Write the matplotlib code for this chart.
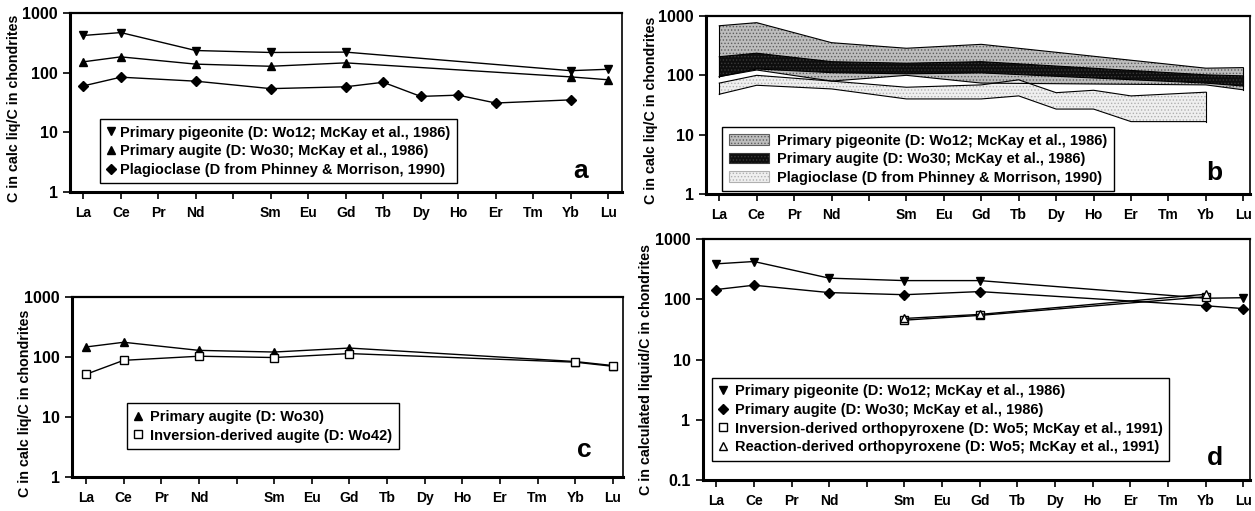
import numpy as np
import matplotlib
matplotlib.use("Agg")
import matplotlib.pyplot as plt
from matplotlib.lines import Line2D
from matplotlib.patches import Patch

plt.rcParams['font.family'] = ['Liberation Sans', 'DejaVu Sans']
plt.rcParams['font.weight'] = 'bold'
plt.rcParams['hatch.linewidth'] = 0.6

# -----------------------------
# REE axis
# -----------------------------
ree = ['La', 'Ce', 'Pr', 'Nd', '', 'Sm', 'Eu', 'Gd', 'Tb', 'Dy', 'Ho', 'Er', 'Tm', 'Yb', 'Lu']
px_elems = ['La', 'Ce', 'Nd', 'Sm', 'Gd', 'Yb', 'Lu']
plag_elems = ['La', 'Ce', 'Nd', 'Sm', 'Gd', 'Tb', 'Dy', 'Ho', 'Er', 'Yb']
opx_elems = ['Sm', 'Gd', 'Yb']

# -----------------------------
# (a) calculated liquids
# -----------------------------
a_pig = [420, 470, 235, 218, 221, 108, 114]
a_aug = [152, 184, 139, 128, 146, 85, 76]
a_plag = [60, 84, 72, 54, 58, 69, 40, 42, 31, 35]

# (b) ranges of calculated liquids
b_pig_hi = [685, 772, 355, 286, 333, 132, 135]
b_pig_lo = [95, 123, 80, 100, 74, 69, 57]
b_aug_hi = [206, 236, 170, 160, 170, 102, 98]
b_aug_lo = [95, 128, 111, 106, 110, 74, 66]
b_plag_hi = [74, 100, 80, 63, 69, 84, 51, 56, 45, 52]
b_plag_lo = [48, 68, 59, 40, 40, 45, 27, 27, 16.6, 16.6]

# (c) augites
c_aug = [147, 176, 129, 121, 141, 84, 72]
c_inv = [51.5, 88, 103, 98, 114, 82, 70]

# (d) pyroxenes incl. orthopyroxene
d_pig = [387, 423, 224, 204, 204, 104, 106]
d_aug = [145, 171, 129, 119, 134, 78, 70]
d_inv_opx = [45, 54, 110]
d_rxn_opx = [48, 56, 121]

FS_LEG = 10.5
FS_X = 10
FS_Y = 11.5
FS_LAB = 10.3


def xs(elems):
    return [ree.index(e) + 1 for e in elems]


W, H = 1255, 511
fig = plt.figure(figsize=(W / 100, H / 100), dpi=100)


def make_axes(x0, x1, y0, y1, ymin, xlim, ylab, labx, laby=0.5):
    ax = fig.add_axes([x0 / W, 1 - y1 / H, (x1 - x0) / W, (y1 - y0) / H])
    ax.set_yscale('log')
    ax.set_ylim(ymin, 1000)
    ax.set_xlim(*xlim)
    ax.set_xticks(range(1, 16))
    ax.set_xticklabels(ree)
    decades = [10.0 ** k for k in range(int(np.log10(ymin)), 4)]
    ax.set_yticks(decades)
    ax.set_yticklabels([('%g' % d) for d in decades])
    ax.yaxis.set_minor_locator(matplotlib.ticker.NullLocator())
    ax.tick_params(direction='out', length=5, width=1.2, pad=5)
    ax.tick_params(axis='x', labelsize=FS_X)
    ax.tick_params(axis='y', labelsize=FS_Y, pad=4)
    for lab in ax.get_xticklabels() + ax.get_yticklabels():
        lab.set_fontweight('bold')
    ax.spines['left'].set_linewidth(2.2)
    ax.spines['bottom'].set_linewidth(2.2)
    ax.spines['top'].set_linewidth(1.6)
    ax.spines['right'].set_linewidth(1.2)
    ax.set_ylabel(ylab, fontsize=FS_LAB, fontweight='bold')
    ax.yaxis.set_label_coords(labx, laby)
    return ax


def mk(marker, face='black'):
    return dict(marker=marker, color='black', markerfacecolor=face,
                markeredgecolor='black', markersize=6, linewidth=1.0)


def handle(marker, face='black', size=6):
    return Line2D([], [], ls='none', marker=marker, markerfacecolor=face,
                  markeredgecolor='black', markersize=size)


def legend(ax, handles, labels, anchor, **kw):
    leg = ax.legend(handles, labels, loc='upper left', bbox_to_anchor=anchor,
                    fancybox=False, framealpha=1, edgecolor='black',
                    prop={'weight': 'bold', 'size': FS_LEG}, borderpad=0.45,
                    labelspacing=0.32, borderaxespad=0, **kw)
    leg.get_frame().set_linewidth(1.0)
    return leg


lab_short = 'C in calc liq/C in chondrites'

# ---- panel a ----
ax = make_axes(70, 622, 13, 192, 1, (0.645, 15.37), lab_short, -0.089, 0.47)
ax.plot(xs(px_elems), a_pig, **mk('v'))
ax.plot(xs(px_elems), a_aug, **mk('^'))
ax.plot(xs(plag_elems), a_plag, **mk('D'))
ax.lines[-1].set_markersize(5)
legend(ax, [handle('v'), handle('^'), handle('D', size=5)],
       ['Primary pigeonite (D: Wo12; McKay et al., 1986)',
        'Primary augite (D: Wo30; McKay et al., 1986)',
        'Plagioclase (D from Phinney & Morrison, 1990)'],
       (30 / 552, 73 / 179), handlelength=0.6, handletextpad=0.35)
ax.text(0.925, 0.12, 'a', transform=ax.transAxes, fontsize=19, fontweight='bold',
        ha='center', va='center')

# ---- panel b ----
ax = make_axes(706, 1250, 16, 194, 1, (0.645, 15.18), lab_short, -0.088, 0.47)
band_styles = [
    (px_elems, b_pig_lo, b_pig_hi, '#bdbdbd', '#5e5e5e'),
    (plag_elems, b_plag_lo, b_plag_hi, '#efefef', '#b0b0b0'),
    (px_elems, b_aug_lo, b_aug_hi, '#0e0e0e', '#3a3a3a'),
]
for elems, lo, hi, fc, hc in band_styles:
    x = xs(elems)
    ax.fill_between(x, lo, hi, facecolor=fc, edgecolor=hc, hatch='.....', linewidth=0)
    ax.plot(x, lo, color='black', lw=0.8)
    ax.plot(x, hi, color='black', lw=0.8)
    ax.plot([x[0], x[0]], [lo[0], hi[0]], color='black', lw=0.8)
    ax.plot([x[-1], x[-1]], [lo[-1], hi[-1]], color='black', lw=0.8)
h = [Patch(facecolor=fc, edgecolor=hc, hatch='.....', linewidth=0.8)
     for _, _, _, fc, hc in (band_styles[0], band_styles[2], band_styles[1])]
legend(ax, h, ['Primary pigeonite (D: Wo12; McKay et al., 1986)',
               'Primary augite (D: Wo30; McKay et al., 1986)',
               'Plagioclase (D from Phinney & Morrison, 1990)'],
       (16 / 544, 67 / 178), handlelength=2.8, handleheight=0.75,
       handletextpad=0.5)
ax.text(0.935, 0.12, 'b', transform=ax.transAxes, fontsize=19, fontweight='bold',
        ha='center', va='center')

# ---- panel c ----
ax = make_axes(72, 623, 297, 477, 1, (0.628, 15.27), lab_short, -0.073, 0.41)
ax.plot(xs(px_elems), c_aug, **mk('^'))
ax.plot(xs(px_elems), c_inv, **mk('s', 'white'))
legend(ax, [handle('^'), handle('s', 'white')],
       ['Primary augite (D: Wo30)', 'Inversion-derived augite (D: Wo42)'],
       (55 / 551, 73.7 / 180), handlelength=0.6, handletextpad=0.55)
ax.text(0.93, 0.15, 'c', transform=ax.transAxes, fontsize=19, fontweight='bold',
        ha='center', va='center')

# ---- panel d ----
ax = make_axes(703, 1250, 239, 480, 0.1, (0.647, 15.18),
               'C in calculated liquid/C in chondrites', -0.091, 0.46)
ax.plot(xs(px_elems), d_pig, **mk('v'))
ax.plot(xs(px_elems), d_aug, **mk('D'))
ax.lines[-1].set_markersize(5)
ax.plot(xs(opx_elems), d_inv_opx, **mk('s', 'white'))
ax.plot(xs(opx_elems), d_rxn_opx, **mk('^', 'white'))
legend(ax, [handle('v'), handle('D', size=5), handle('s', 'white'), handle('^', 'white')],
       ['Primary pigeonite (D: Wo12; McKay et al., 1986)',
        'Primary augite (D: Wo30; McKay et al., 1986)',
        'Inversion-derived orthopyroxene (D: Wo5; McKay et al., 1991)',
        'Reaction-derived orthopyroxene (D: Wo5; McKay et al., 1991)'],
       (9 / 547, 102.3 / 241), handlelength=0.6, handletextpad=0.5)
ax.text(0.935, 0.09, 'd', transform=ax.transAxes, fontsize=19, fontweight='bold',
        ha='center', va='center')

fig.savefig('out.png', dpi=100, facecolor='white')
